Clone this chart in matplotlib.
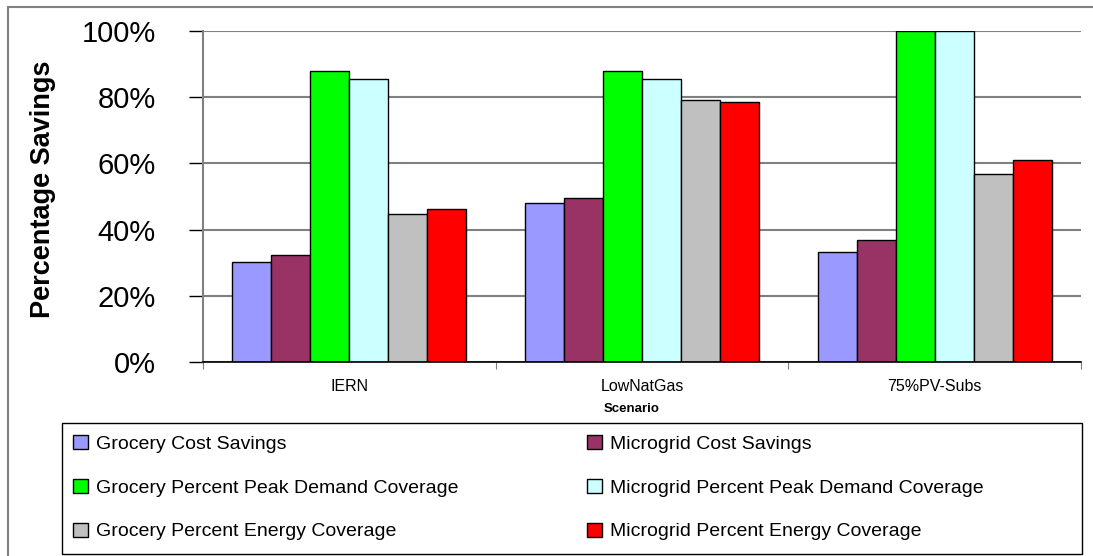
from matplotlib import pyplot as plt
from matplotlib.patches import Rectangle
import numpy as np

plt.rcParams['font.family'] = ['Liberation Sans', 'DejaVu Sans']

scenarios = ['IERN', 'LowNatGas', '75%PV-Subs']
series_names = [
    'Grocery Cost Savings',
    'Microgrid Cost Savings',
    'Grocery Percent Peak Demand Coverage',
    'Microgrid Percent Peak Demand Coverage',
    'Grocery Percent Energy Coverage',
    'Microgrid Percent Energy Coverage',
]
grocery_cost = [0.303, 0.479, 0.333]
microgrid_cost = [0.322, 0.495, 0.369]
grocery_peak = [0.880, 0.880, 1.00]
microgrid_peak = [0.856, 0.856, 1.00]
grocery_energy = [0.448, 0.791, 0.568]
microgrid_energy = [0.463, 0.785, 0.610]
colors = ['#9999FF', '#993366', '#00FF00', '#CCFFFF', '#C0C0C0', '#FF0000']

values = [grocery_cost, microgrid_cost, grocery_peak,
          microgrid_peak, grocery_energy, microgrid_energy]

W, H = 1093, 556
fig = plt.figure(figsize=(W / 100, H / 100), dpi=100)
ax = fig.add_axes([203 / W, 1 - 362 / H, 878 / W, 331 / H])

# outer chart border
fig.patches.append(Rectangle((8 / W, -0.1), 1.2, 1 - 7 / H + 0.1,
                             transform=fig.transFigure, fill=False,
                             edgecolor='#808080', lw=1.5))

x = np.arange(len(scenarios))
width = 1 / 7.5
bars = []
for i, vals in enumerate(values):
    offset = (i - 2.5) * width
    b = ax.bar(x + offset, vals, width, color=colors[i], edgecolor='black',
               linewidth=1.0, zorder=3, label=series_names[i])
    bars.append(b)

ax.set_xlim(-0.5, 2.5)
ax.set_ylim(0, 1.0)
yt = np.arange(0, 1.01, 0.2)
ax.set_yticks(yt)
ax.set_yticklabels([f'{int(round(v * 100))}%' for v in yt], fontsize=21)
ax.tick_params(axis='y', length=10, width=1, direction='out', pad=24)
ax.yaxis.grid(True, color='#808080', lw=1.5, zorder=0)

ax.set_xticks([-0.5, 0.5, 1.5, 2.5])
ax.set_xticklabels([])
ax.tick_params(axis='x', which='major', length=5, color='#808080', direction='out')
ax.set_xticks(x, minor=True)
ax.set_xticklabels(scenarios, minor=True, fontsize=11.5)
ax.tick_params(axis='x', which='minor', length=0, pad=12)

for s in ['top', 'right']:
    ax.spines[s].set_visible(False)
ax.spines['left'].set_color('#808080')
ax.spines['left'].set_linewidth(1.5)
ax.spines['bottom'].set_color('black')
ax.spines['bottom'].set_linewidth(1.2)
ax.spines['bottom'].set_zorder(4)

fig.text(43 / W, 1 - 189 / H, 'Percentage Savings', rotation=90,
         ha='center', va='center', fontsize=19.5, fontweight='bold')
fig.text(632 / W, 1 - 409 / H, 'Scenario', ha='center', va='center',
         fontsize=9.5, fontweight='bold')

# legend box
fig.patches.append(Rectangle((62 / W, 1 - 554 / H), 1020 / W, 131 / H,
                             transform=fig.transFigure, fill=False,
                             edgecolor='black', lw=1.0))

handles = [bars[0], bars[2], bars[4], bars[1], bars[3], bars[5]]
labels = [series_names[0], series_names[2], series_names[4],
          series_names[1], series_names[3], series_names[5]]
leg = fig.legend(handles, labels, ncol=2, loc='upper left',
                 bbox_to_anchor=(73 / W, 1 - 435 / H),
                 fontsize=14, frameon=False, handlelength=0.75, handleheight=0.75,
                 handletextpad=0.45, labelspacing=1.33, borderaxespad=0,
                 borderpad=0, columnspacing=6.6)

plt.savefig('out.png', dpi=100)
plt.close()
